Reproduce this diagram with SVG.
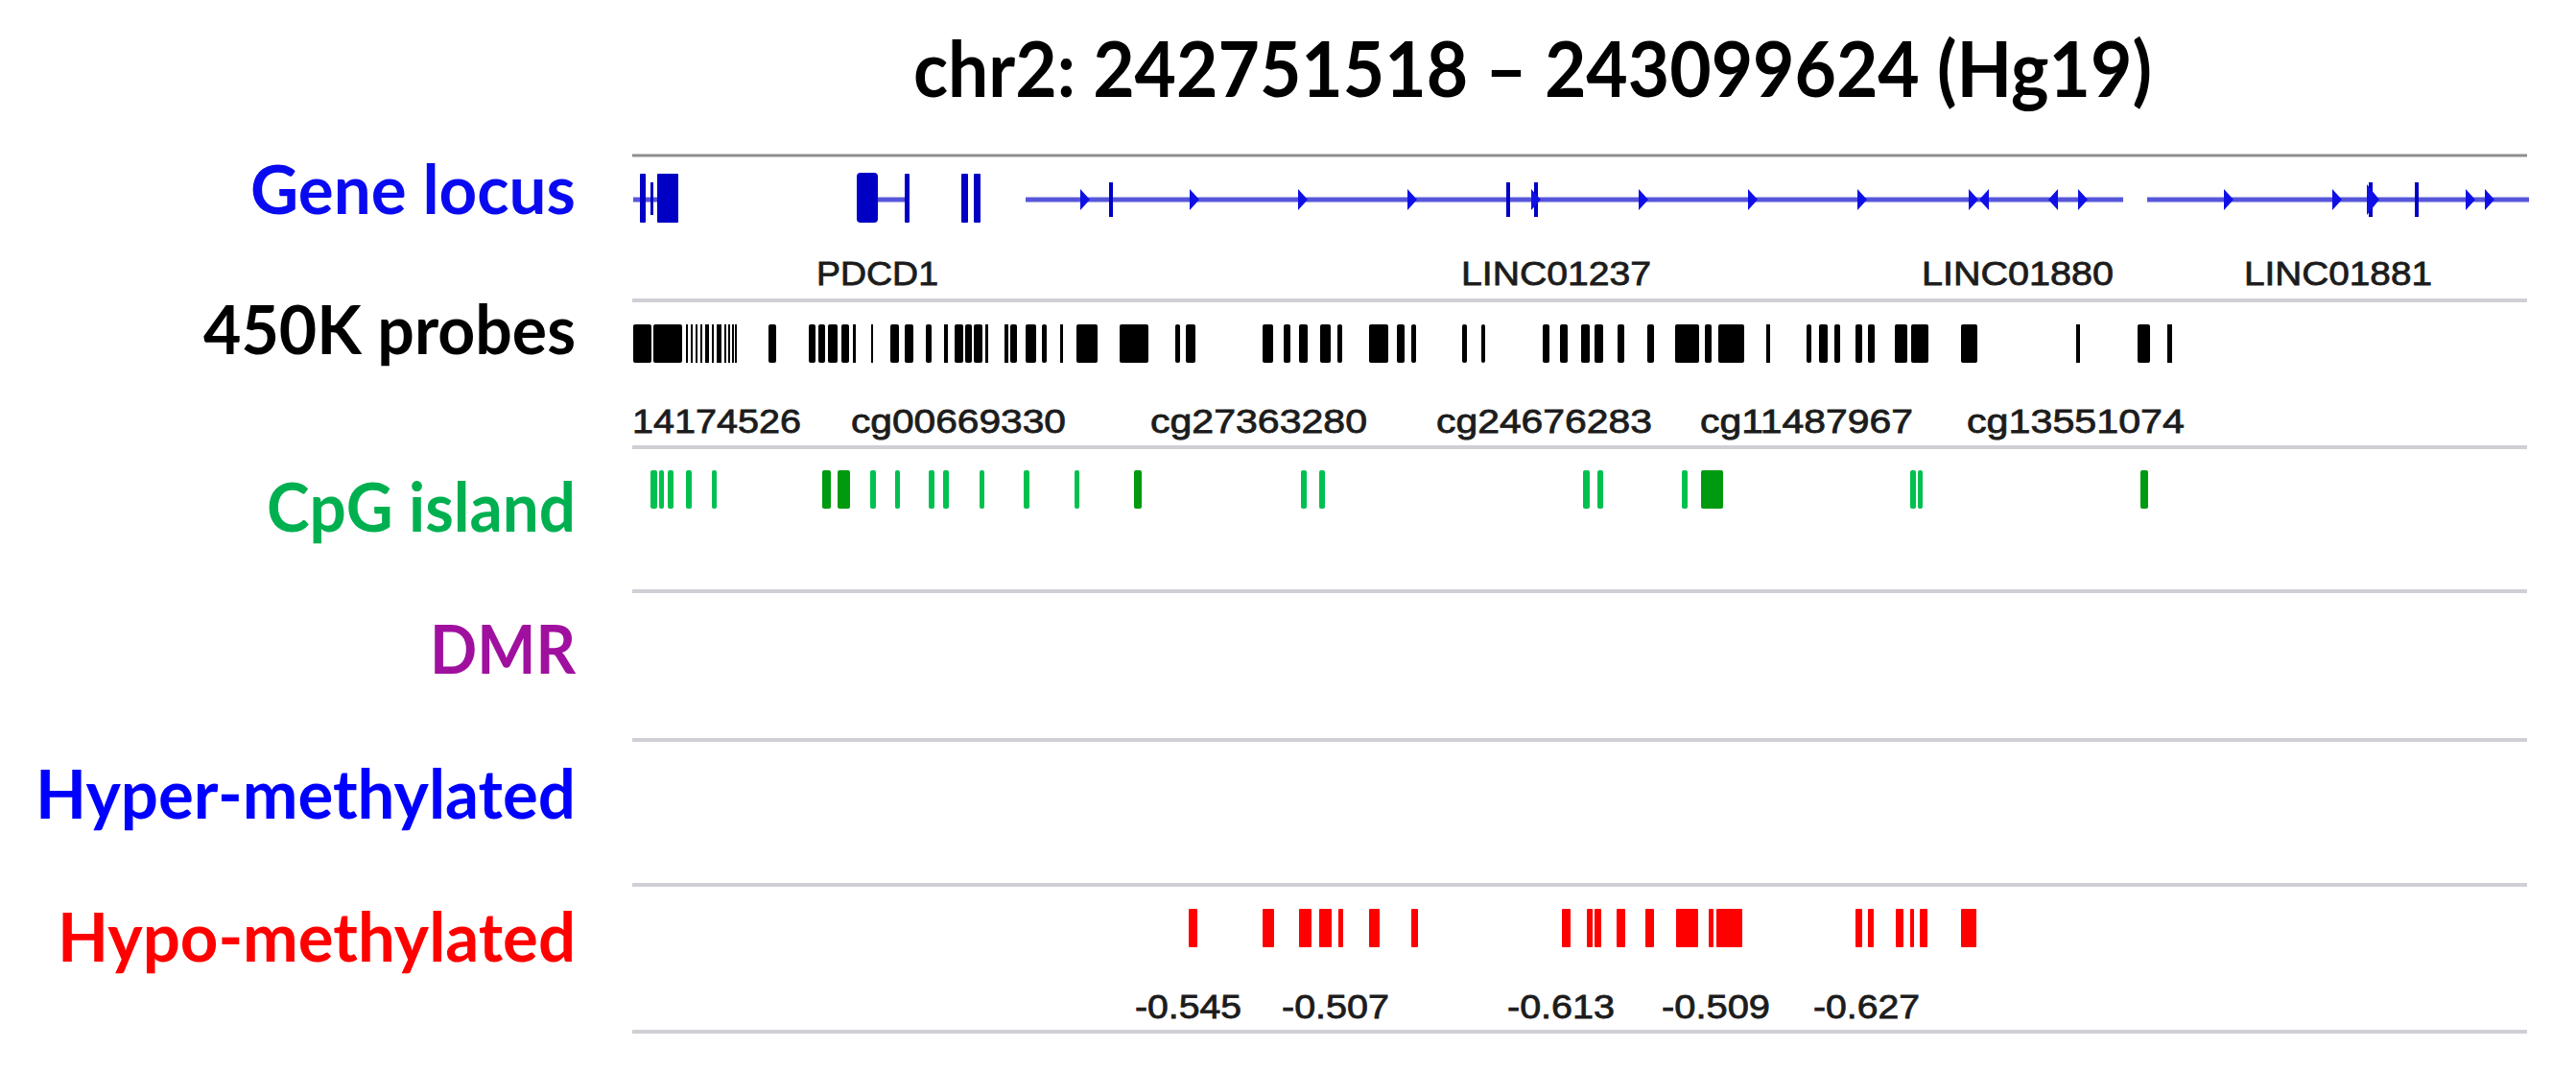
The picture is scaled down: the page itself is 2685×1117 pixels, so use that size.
<svg xmlns="http://www.w3.org/2000/svg" width="2685" height="1117" viewBox="0 0 2685 1117">
<defs>
<style>
.title{font-family:Lato,"Open Sans","Liberation Sans",sans-serif;font-weight:700;font-size:80px;fill:#000}
.lab{font-family:Lato,"Open Sans","Liberation Sans",sans-serif;font-weight:700;font-size:70px;text-anchor:end}
.sm{font-family:"Liberation Sans",Arial,sans-serif;font-size:35px;fill:#1c1c1c;stroke:#1c1c1c;stroke-width:0.8}
.grid{stroke:#cfd0d6;stroke-width:4;fill:none}
.gtop{stroke:#8e8e8e;stroke-width:3;fill:none}
.gl{stroke:#5656da;stroke-width:5;fill:none}
.ex{fill:#0000c4}
.ar{fill:#1010e6}
.pb rect{fill:#000}
.cg rect{fill:#00c050}
.cg rect.d{fill:#009a10}
.hy rect{fill:#ff0000}
</style>
</defs>
<rect width="2685" height="1117" fill="#fff"/>

<g id="title"><text class="title" x="952" y="101" textLength="1291" lengthAdjust="spacingAndGlyphs">chr2: 242751518 – 243099624 (Hg19)</text></g>

<g id="labels">
<text class="lab" x="600" y="223" fill="#0a0af0" textLength="339" lengthAdjust="spacingAndGlyphs">Gene locus</text>
<text class="lab" x="600" y="369" fill="#000" textLength="388" lengthAdjust="spacingAndGlyphs">450K probes</text>
<text class="lab" x="600" y="554" fill="#00b050" textLength="322" lengthAdjust="spacingAndGlyphs">CpG island</text>
<text class="lab" x="600" y="702" fill="#a0109f" textLength="152" lengthAdjust="spacingAndGlyphs">DMR</text>
<text class="lab" x="600" y="853" fill="#0000ff" textLength="563" lengthAdjust="spacingAndGlyphs">Hyper-methylated</text>
<text class="lab" x="600" y="1002" fill="#ff0000" textLength="540" lengthAdjust="spacingAndGlyphs">Hypo-methylated</text>
</g>

<g id="gridlines">
<line class="gtop" x1="659" y1="162" x2="2634" y2="162"/>
<line class="grid" x1="659" y1="313" x2="2634" y2="313"/>
<line class="grid" x1="659" y1="466" x2="2634" y2="466"/>
<line class="grid" x1="659" y1="616" x2="2634" y2="616"/>
<line class="grid" x1="659" y1="771" x2="2634" y2="771"/>
<line class="grid" x1="659" y1="922" x2="2634" y2="922"/>
<line class="grid" x1="659" y1="1075" x2="2634" y2="1075"/>
</g>

<g id="gene-locus">
<line class="gl" x1="660" y1="208" x2="707" y2="208"/>
<line class="gl" x1="912" y1="208" x2="947" y2="208"/>
<line class="gl" x1="1069" y1="208" x2="2213" y2="208"/>
<line class="gl" x1="2238" y1="208" x2="2636" y2="208"/>
<rect class="ex" x="667" y="181" width="6" height="51" rx="1"/>
<rect class="ex" x="678" y="190" width="3" height="34"/>
<rect class="ex" x="685" y="181" width="22" height="51" rx="1"/>
<rect class="ex" x="893" y="180" width="22" height="52" rx="4"/>
<rect class="ex" x="943" y="181" width="5" height="51" rx="1"/>
<rect class="ex" x="1002" y="181" width="7" height="51" rx="1"/>
<rect class="ex" x="1015" y="181" width="7" height="51" rx="1"/>
<rect class="ex" x="1156" y="190" width="4" height="36"/>
<rect class="ex" x="1570" y="190" width="4" height="36"/>
<rect class="ex" x="1599" y="190" width="4" height="36"/>
<rect class="ex" x="2517" y="190" width="4" height="36"/>
<rect class="ex" x="2469" y="190" width="4" height="36"/>
<g class="ar">
<polygon points="1126,197 1136,208 1126,219"/>
<polygon points="1240,197 1250,208 1240,219"/>
<polygon points="1353,197 1363,208 1353,219"/>
<polygon points="1467,197 1477,208 1467,219"/>
<polygon points="1596,197 1606,208 1596,219"/>
<polygon points="1708,197 1718,208 1708,219"/>
<polygon points="1822,197 1832,208 1822,219"/>
<polygon points="1936,197 1946,208 1936,219"/>
<polygon points="2052,197 2062,208 2052,219"/>
<polygon points="2073,197 2063,208 2073,219"/>
<polygon points="2145,197 2135,208 2145,219"/>
<polygon points="2166,197 2176,208 2166,219"/>
<polygon points="2318,197 2328,208 2318,219"/>
<polygon points="2431,197 2441,208 2431,219"/>
<polygon points="2467,192 2480,208 2467,224"/>
<polygon points="2570,197 2580,208 2570,219"/>
<polygon points="2590,197 2600,208 2590,219"/>
</g>
<text class="sm" x="851" y="297" textLength="127" lengthAdjust="spacingAndGlyphs">PDCD1</text>
<text class="sm" x="1523" y="297" textLength="198" lengthAdjust="spacingAndGlyphs">LINC01237</text>
<text class="sm" x="2003" y="297" textLength="200" lengthAdjust="spacingAndGlyphs">LINC01880</text>
<text class="sm" x="2339" y="297" textLength="196" lengthAdjust="spacingAndGlyphs">LINC01881</text>
</g>

<g id="probes">
<g class="pb">
<rect x="660" y="338" width="19" height="40" rx="2"/>
<rect x="681" y="338" width="30" height="40" rx="2"/>
<rect x="715" y="338" width="2" height="40"/>
<rect x="720" y="338" width="2" height="40"/>
<rect x="725" y="338" width="2" height="40"/>
<rect x="730" y="338" width="2" height="40"/>
<rect x="735" y="338" width="4" height="40"/>
<rect x="742" y="338" width="2" height="40"/>
<rect x="747" y="338" width="5" height="40"/>
<rect x="755" y="338" width="2" height="40"/>
<rect x="759" y="338" width="2" height="40"/>
<rect x="763" y="338" width="2" height="40"/>
<rect x="766" y="338" width="2" height="40"/>
<rect x="801" y="338" width="8" height="40" rx="2"/>
<rect x="843" y="338" width="7" height="40" rx="2"/>
<rect x="853" y="338" width="7" height="40" rx="2"/>
<rect x="863" y="338" width="10" height="40" rx="2"/>
<rect x="877" y="338" width="8" height="40" rx="2"/>
<rect x="889" y="338" width="3" height="40"/>
<rect x="908" y="338" width="2" height="40"/>
<rect x="928" y="338" width="9" height="40" rx="2"/>
<rect x="943" y="338" width="9" height="40" rx="2"/>
<rect x="965" y="338" width="6" height="40" rx="2"/>
<rect x="984" y="338" width="4" height="40"/>
<rect x="995" y="338" width="9" height="40" rx="2"/>
<rect x="1006" y="338" width="7" height="40" rx="2"/>
<rect x="1015" y="338" width="9" height="40" rx="2"/>
<rect x="1027" y="338" width="3" height="40"/>
<rect x="1047" y="338" width="4" height="40"/>
<rect x="1053" y="338" width="7" height="40" rx="2"/>
<rect x="1069" y="338" width="11" height="40" rx="2"/>
<rect x="1086" y="338" width="5" height="40" rx="2"/>
<rect x="1105" y="338" width="3" height="40"/>
<rect x="1122" y="338" width="22" height="40" rx="2"/>
<rect x="1167" y="338" width="30" height="40" rx="2"/>
<rect x="1225" y="338" width="5" height="40" rx="2"/>
<rect x="1236" y="338" width="10" height="40" rx="2"/>
<rect x="1316" y="338" width="11" height="40" rx="2"/>
<rect x="1338" y="338" width="7" height="40" rx="2"/>
<rect x="1354" y="338" width="9" height="40" rx="2"/>
<rect x="1376" y="338" width="11" height="40" rx="2"/>
<rect x="1394" y="338" width="5" height="40" rx="2"/>
<rect x="1427" y="338" width="20" height="40" rx="2"/>
<rect x="1456" y="338" width="8" height="40" rx="2"/>
<rect x="1471" y="338" width="5" height="40" rx="2"/>
<rect x="1524" y="338" width="5" height="40" rx="2"/>
<rect x="1544" y="338" width="4" height="40" rx="2"/>
<rect x="1608" y="338" width="7" height="40" rx="2"/>
<rect x="1626" y="338" width="8" height="40" rx="2"/>
<rect x="1648" y="338" width="9" height="40" rx="2"/>
<rect x="1662" y="338" width="9" height="40" rx="2"/>
<rect x="1686" y="338" width="7" height="40" rx="2"/>
<rect x="1717" y="338" width="7" height="40" rx="2"/>
<rect x="1746" y="338" width="25" height="40" rx="2"/>
<rect x="1777" y="338" width="7" height="40" rx="2"/>
<rect x="1791" y="338" width="27" height="40" rx="2"/>
<rect x="1841" y="338" width="4" height="40"/>
<rect x="1883" y="338" width="5" height="40" rx="2"/>
<rect x="1896" y="338" width="9" height="40" rx="2"/>
<rect x="1912" y="338" width="6" height="40" rx="2"/>
<rect x="1934" y="338" width="7" height="40" rx="2"/>
<rect x="1947" y="338" width="7" height="40" rx="2"/>
<rect x="1975" y="338" width="13" height="40" rx="2"/>
<rect x="1992" y="338" width="18" height="40" rx="2"/>
<rect x="2044" y="338" width="17" height="40" rx="2"/>
<rect x="2164" y="338" width="4" height="40"/>
<rect x="2228" y="338" width="13" height="40" rx="2"/>
<rect x="2259" y="338" width="5" height="40"/>
</g>
<text class="sm" x="659" y="451" textLength="176" lengthAdjust="spacingAndGlyphs">14174526</text>
<text class="sm" x="887" y="451" textLength="224" lengthAdjust="spacingAndGlyphs">cg00669330</text>
<text class="sm" x="1199" y="451" textLength="226" lengthAdjust="spacingAndGlyphs">cg27363280</text>
<text class="sm" x="1497" y="451" textLength="225" lengthAdjust="spacingAndGlyphs">cg24676283</text>
<text class="sm" x="1772" y="451" textLength="222" lengthAdjust="spacingAndGlyphs">cg11487967</text>
<text class="sm" x="2050" y="451" textLength="227" lengthAdjust="spacingAndGlyphs">cg13551074</text>
</g>

<g id="cpg-island" class="cg">
<rect x="678" y="490" width="7" height="40" rx="2"/>
<rect x="687" y="490" width="5" height="40" rx="2"/>
<rect x="696" y="490" width="6" height="40" rx="2"/>
<rect x="715" y="490" width="6" height="40" rx="2"/>
<rect x="742" y="490" width="5" height="40" rx="2"/>
<rect class="d" x="857" y="490" width="9" height="40" rx="2"/>
<rect class="d" x="873" y="490" width="13" height="40" rx="2"/>
<rect x="907" y="490" width="6" height="40" rx="2"/>
<rect x="933" y="490" width="5" height="40" rx="2"/>
<rect x="968" y="490" width="6" height="40" rx="2"/>
<rect x="983" y="490" width="6" height="40" rx="2"/>
<rect x="1021" y="490" width="5" height="40" rx="2"/>
<rect x="1067" y="490" width="6" height="40" rx="2"/>
<rect x="1120" y="490" width="5" height="40" rx="2"/>
<rect class="d" x="1182" y="490" width="8" height="40" rx="2"/>
<rect x="1356" y="490" width="6" height="40" rx="2"/>
<rect x="1375" y="490" width="6" height="40" rx="2"/>
<rect x="1650" y="490" width="7" height="40" rx="2"/>
<rect x="1665" y="490" width="6" height="40" rx="2"/>
<rect x="1753" y="490" width="6" height="40" rx="2"/>
<rect class="d" x="1773" y="490" width="23" height="40" rx="2"/>
<rect x="1991" y="490" width="6" height="40" rx="2"/>
<rect x="1999" y="490" width="5" height="40" rx="2"/>
<rect class="d" x="2231" y="490" width="8" height="40" rx="2"/>
</g>

<g id="dmr"></g>
<g id="hyper-methylated"></g>

<g id="hypo-methylated">
<g class="hy">
<rect x="1239" y="947" width="9" height="40" rx="1"/>
<rect x="1316" y="947" width="12" height="40" rx="1"/>
<rect x="1354" y="947" width="13" height="40" rx="1"/>
<rect x="1375" y="947" width="13" height="40" rx="1"/>
<rect x="1395" y="947" width="5" height="40" rx="1"/>
<rect x="1427" y="947" width="11" height="40" rx="1"/>
<rect x="1471" y="947" width="7" height="40" rx="1"/>
<rect x="1628" y="947" width="9" height="40" rx="1"/>
<rect x="1654" y="947" width="6" height="40" rx="1"/>
<rect x="1662" y="947" width="7" height="40" rx="1"/>
<rect x="1685" y="947" width="9" height="40" rx="1"/>
<rect x="1715" y="947" width="9" height="40" rx="1"/>
<rect x="1747" y="947" width="23" height="40" rx="1"/>
<rect x="1781" y="947" width="5" height="40" rx="1"/>
<rect x="1789" y="947" width="27" height="40" rx="1"/>
<rect x="1934" y="947" width="7" height="40" rx="1"/>
<rect x="1947" y="947" width="6" height="40" rx="1"/>
<rect x="1976" y="947" width="8" height="40" rx="1"/>
<rect x="1991" y="947" width="4" height="40" rx="1"/>
<rect x="2001" y="947" width="8" height="40" rx="1"/>
<rect x="2044" y="947" width="16" height="40" rx="1"/>
</g>
<text class="sm" x="1183" y="1061" font-size="37" textLength="111" lengthAdjust="spacingAndGlyphs">-0.545</text>
<text class="sm" x="1336" y="1061" font-size="37" textLength="112" lengthAdjust="spacingAndGlyphs">-0.507</text>
<text class="sm" x="1571" y="1061" font-size="37" textLength="112" lengthAdjust="spacingAndGlyphs">-0.613</text>
<text class="sm" x="1732" y="1061" font-size="37" textLength="113" lengthAdjust="spacingAndGlyphs">-0.509</text>
<text class="sm" x="1890" y="1061" font-size="37" textLength="111" lengthAdjust="spacingAndGlyphs">-0.627</text>
</g>
</svg>
